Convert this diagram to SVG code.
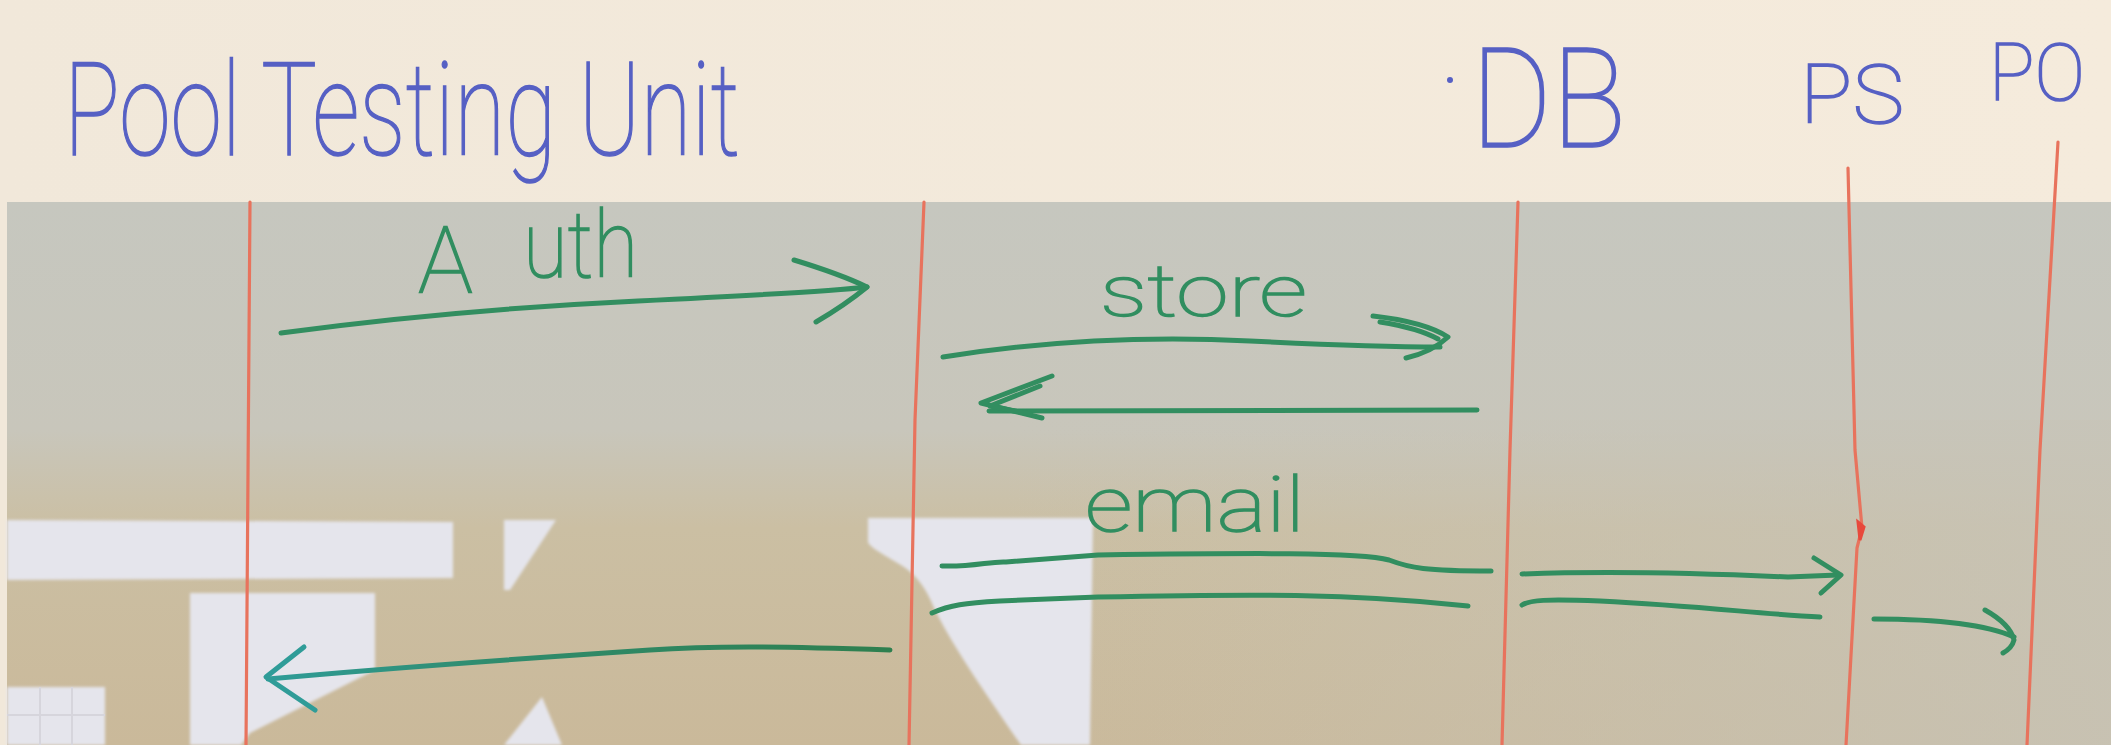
<svg xmlns="http://www.w3.org/2000/svg" width="2111" height="745" viewBox="0 0 2111 745">
  <style>
    .life { fill: none; stroke: #e8735d; stroke-width: 3.2; stroke-linecap: round; stroke-linejoin: round; }
    .wire { fill: none; stroke: #328e60; stroke-width: 5; stroke-linecap: round; stroke-linejoin: round; }
    .ttl { font-family: Roboto, "Open Sans", "Liberation Sans", sans-serif; font-weight: 100; fill: #5660c4; stroke: #5660c4; stroke-width: 1.5; }
    .lbl { font-family: Roboto, "Open Sans", "Liberation Sans", sans-serif; font-weight: 100; fill: #318e60; stroke: #318e60; stroke-width: 1.5; }
    .glare { fill: #e5e5ec; }
  </style>
  <defs>
    <linearGradient id="board" x1="0" y1="202" x2="0" y2="745" gradientUnits="userSpaceOnUse">
      <stop offset="0" stop-color="#c6c7bf"/>
      <stop offset="0.42" stop-color="#c8c6bb"/>
      <stop offset="0.6" stop-color="#cbbfa3"/>
      <stop offset="1" stop-color="#cab99a"/>
    </linearGradient>
    <linearGradient id="boardR" x1="1000" y1="0" x2="2111" y2="0" gradientUnits="userSpaceOnUse">
      <stop offset="0" stop-color="#c7c4b8" stop-opacity="0"/>
      <stop offset="1" stop-color="#c7c4b8" stop-opacity="0.8"/>
    </linearGradient>
    <linearGradient id="cream" x1="0" y1="0" x2="2111" y2="0" gradientUnits="userSpaceOnUse">
      <stop offset="0" stop-color="#f1e8da"/>
      <stop offset="1" stop-color="#f5ebdc"/>
    </linearGradient>
    <linearGradient id="retGrad" x1="268" y1="0" x2="890" y2="0" gradientUnits="userSpaceOnUse">
      <stop offset="0" stop-color="#2f9c98"/>
      <stop offset="0.35" stop-color="#2f8c6e"/>
      <stop offset="1" stop-color="#2e7f4f"/>
    </linearGradient>
    <filter id="soft" x="-5%" y="-5%" width="110%" height="110%">
      <feGaussianBlur stdDeviation="1.5"/>
    </filter>
  </defs>

  <!-- background -->
  <rect x="0" y="0" width="2111" height="745" fill="url(#cream)"/>
  <rect x="7" y="202" width="2104" height="543" fill="url(#board)"/>
  <rect x="1000" y="420" width="1111" height="325" fill="url(#boardR)"/>
  <g filter="url(#soft)">
    <polygon class="glare" points="7,520 453,522 453,578 7,580"/>
    <polygon class="glare" points="504,520 556,520 510,590 504,590"/>
    <polygon class="glare" points="190,593 375,593 375,670 250,733 241,745 190,745"/>
    <polygon class="glare" points="7,687 105,687 105,745 7,745"/>
    <polygon class="glare" points="542,697 562,745 504,745"/>
    <path class="glare" d="M868,518 L1093,518 L1090,745 L1021,745 C990,700 955,650 935,610 C925,585 915,575 904,567 C885,555 870,548 868,542 Z"/>
  </g>
  <g stroke="#d6d5dc" stroke-width="2">
    <line x1="40" y1="687" x2="40" y2="745"/>
    <line x1="72" y1="687" x2="72" y2="745"/>
    <line x1="7" y1="715" x2="105" y2="715"/>
  </g>

  <!-- nodes -->
  <g id="title">
    <text class="ttl" x="64" y="155" font-size="130" textLength="676" lengthAdjust="spacingAndGlyphs">Pool Testing Unit</text>
  </g>
  <g id="lifeline-client">
    <path class="life" d="M250,202 L246,745"/>
  </g>
  <g id="lifeline-unit">
    <path class="life" d="M924,202 L915,420 L909,745"/>
  </g>
  <g id="db">
    <circle cx="1450" cy="80" r="3" fill="#5660c4"/>
    <text class="ttl" x="1471" y="147" font-size="140" textLength="155" lengthAdjust="spacingAndGlyphs">DB</text>
    <path class="life" d="M1518,202 L1510,450 L1502,745"/>
  </g>
  <g id="ps">
    <text class="ttl" x="1800" y="123" font-size="82" textLength="104" lengthAdjust="spacingAndGlyphs">PS</text>
    <path class="life" d="M1848,168 L1855,450 L1862,528 L1857,548 L1846,745"/>
    <path d="M1858,522 L1864,527 L1860,540 Z" fill="#e8493c" stroke="#e8493c" stroke-width="3"/>
  </g>
  <g id="po">
    <text class="ttl" x="1989" y="100" font-size="80" textLength="96" lengthAdjust="spacingAndGlyphs">PO</text>
    <path class="life" d="M2058,142 L2040,450 L2027,745"/>
  </g>

  <!-- connectors -->
  <g id="connectors">
    <!-- Auth -->
    <text class="lbl" x="418" y="293" font-size="92">A<tspan x="523" y="277" textLength="115" lengthAdjust="spacingAndGlyphs">uth</tspan></text>
    <path class="wire" d="M281,333 Q450,310 638,301 T867,287"/>
    <path class="wire" d="M794,260 Q840,274 867,287 Q845,305 816,322"/>

    <!-- store -->
    <text class="lbl" x="1100" y="316" font-size="72" textLength="207" lengthAdjust="spacingAndGlyphs">store</text>
    <path class="wire" d="M943,357 C1050,340 1150,336 1250,341 S1400,347 1440,347"/>
    <path class="wire" d="M1373,316 Q1425,322 1448,337 Q1432,352 1406,358"/>
    <path class="wire" d="M1380,322 Q1418,328 1438,339"/>
    <!-- store reply -->
    <path class="wire" d="M1477,410 L989,411"/>
    <path class="wire" d="M1052,376 L981,403 L1042,418"/>
    <path class="wire" d="M1040,386 L990,406 L1030,414"/>

    <!-- email -->
    <text class="lbl" x="1085" y="531" font-size="76" textLength="220" lengthAdjust="spacingAndGlyphs">email</text>
    <path class="wire" d="M942,566 C975,567 990,561 1006,562 L1098,555 C1250,553 1360,552 1389,560 C1410,568 1425,571 1491,571"/>
    <path class="wire" d="M932,613 C950,605 965,603 1000,601 L1098,597 C1250,594 1350,593 1468,606"/>
    <!-- DB to PS -->
    <path class="wire" d="M1522,574 C1600,571 1700,573 1788,577 L1838,575"/>
    <path class="wire" d="M1814,558 L1841,575 L1821,593"/>
    <path class="wire" d="M1522,605 C1530,600 1545,599 1600,601 C1700,606 1760,614 1820,617"/>
    <!-- PS to PO -->
    <path class="wire" d="M1874,619 C1930,619 1985,624 2014,637"/>
    <path class="wire" d="M1985,610 Q2010,624 2014,640 Q2012,648 2003,653"/>

    <!-- reply to client -->
    <path class="wire" style="stroke:url(#retGrad)" d="M890,650 C800,647 720,645 650,650 C500,660 400,667 268,679"/>
    <path class="wire" style="stroke:#2f9c98" d="M304,647 L266,677 L315,710"/>
  </g>
</svg>
